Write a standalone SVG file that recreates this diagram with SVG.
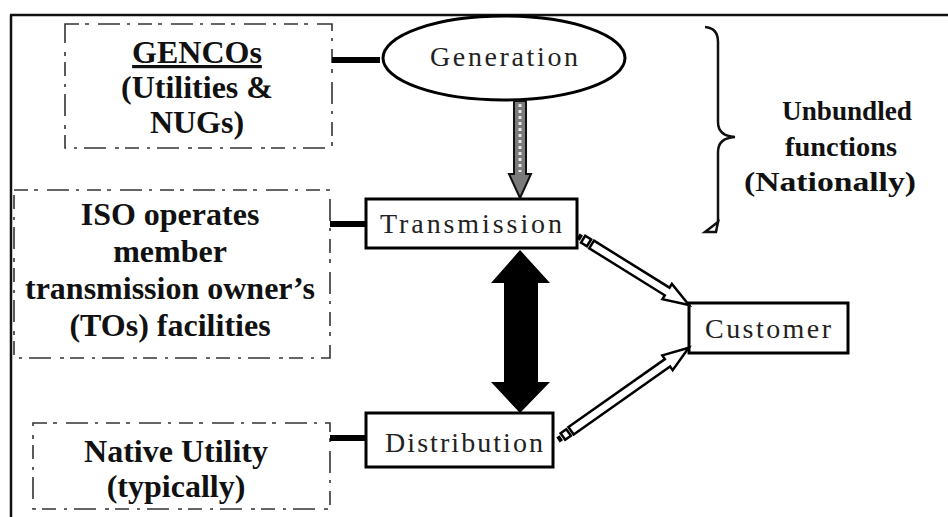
<svg xmlns="http://www.w3.org/2000/svg" width="948" height="517" viewBox="0 0 948 517">
  <style>
    .lbl { font-weight: bold; font-size: 32px; fill: #111; text-anchor: middle; }
    .side { font-weight: bold; font-size: 28px; fill: #111; text-anchor: middle; }
    .node { font-size: 28px; fill: #222; text-anchor: middle; }
    .dash { fill: none; stroke: #333; stroke-width: 1.6; stroke-dasharray: 14 6 4 9 22 7 3 8; }
    .box { fill: #fff; stroke: #000; stroke-width: 3; }
    .bar { stroke: #000; stroke-width: 6; }
    .hollow { fill: #fff; stroke: #000; stroke-width: 2.5; stroke-linejoin: miter; }
  </style>

  <rect width="948" height="517" fill="#fff"/>

  <!-- outer frame: top and left edges only -->
  <path d="M10 15 H948 M11 15 V517" fill="none" stroke="#111" stroke-width="2.5"/>

  <!-- dashed label boxes -->
  <g id="gencos">
    <rect class="dash" x="65" y="24" width="267" height="124"/>
    <text class="lbl" font-family="Liberation Serif" x="197" y="63" text-decoration="underline">GENCOs</text>
    <text class="lbl" font-family="Liberation Serif" x="197" y="98">(Utilities &amp;</text>
    <text class="lbl" font-family="Liberation Serif" x="197" y="133">NUGs)</text>
  </g>

  <g id="iso">
    <rect class="dash" x="14" y="190" width="316" height="168"/>
    <text class="lbl" font-family="Liberation Serif" x="170" y="225">ISO operates</text>
    <text class="lbl" font-family="Liberation Serif" x="170" y="262">member</text>
    <text class="lbl" font-family="Liberation Serif" x="170" y="299">transmission owner’s</text>
    <text class="lbl" font-family="Liberation Serif" x="170" y="336">(TOs) facilities</text>
  </g>

  <g id="native">
    <rect class="dash" x="33" y="423" width="297" height="86"/>
    <text class="lbl" font-family="Liberation Serif" x="176" y="462">Native Utility</text>
    <text class="lbl" font-family="Liberation Serif" x="176" y="497">(typically)</text>
  </g>

  <!-- functional nodes -->
  <g id="generation">
    <ellipse cx="504" cy="58" rx="121" ry="42" fill="#fff" stroke="#000" stroke-width="3"/>
    <text class="node" font-family="Liberation Serif" x="504" y="66" textLength="148" lengthAdjust="spacing">Generation</text>
  </g>

  <g id="transmission">
    <rect class="box" x="366" y="199" width="211" height="49"/>
    <text class="node" font-family="Liberation Serif" x="471" y="233" textLength="182" lengthAdjust="spacing">Transmission</text>
  </g>

  <g id="distribution">
    <rect class="box" x="366" y="413" width="187" height="54"/>
    <text class="node" font-family="Liberation Serif" x="464" y="452" textLength="158" lengthAdjust="spacing">Distribution</text>
  </g>

  <g id="customer">
    <rect class="box" x="689" y="303" width="159" height="50"/>
    <text class="node" font-family="Liberation Serif" x="768" y="338" textLength="126" lengthAdjust="spacing">Customer</text>
  </g>

  <!-- brace and its caption -->
  <g id="unbundled">
    <path d="M705 27 Q718 28 718 42 V122 Q718 136 735 137 Q718 138 718 152 V222" fill="none" stroke="#111" stroke-width="2.5"/>
    <path d="M718 222 L705 232 L716 232 Z" fill="#fff" stroke="#111" stroke-width="2.5"/>
    <text class="side" font-family="Liberation Serif" x="847" y="120" textLength="130" lengthAdjust="spacingAndGlyphs">Unbundled</text>
    <text class="side" font-family="Liberation Serif" x="841" y="156" textLength="112" lengthAdjust="spacingAndGlyphs">functions</text>
    <text class="side" font-family="Liberation Serif" x="830" y="191" textLength="172" lengthAdjust="spacingAndGlyphs">(Nationally)</text>
  </g>

  <!-- connectors -->
  <g id="connectors">
    <!-- ownership bars -->
    <line class="bar" x1="332" y1="60" x2="380" y2="60"/>
    <line class="bar" x1="330" y1="224" x2="366" y2="224"/>
    <line class="bar" x1="330" y1="438" x2="366" y2="438"/>

    <!-- generation to transmission -->
    <path d="M514 101 V174 H509 L520 198 L531 174 H526 V101 Z" fill="#7a7a7a" stroke="#111" stroke-width="2"/>
    <line x1="520" y1="104" x2="520" y2="172" stroke="#e8e8e8" stroke-width="3" stroke-dasharray="3 3"/>

    <!-- transmission / distribution two-way arrow -->
    <path d="M520 250 L550 283 H538 V382 H550 L520 413 L491 382 H504 V283 H491 Z" fill="#000"/>

    <!-- transmission to customer -->
    <g transform="translate(578 236) rotate(31.9)">
      <rect x="0" y="-3" width="4" height="6" fill="#000"/>
      <rect x="6" y="-4" width="7" height="8" fill="#fff" stroke="#000" stroke-width="2.5"/>
      <path class="hollow" d="M16 -4.5 H105 V-9 L130.7 0 L105 9 V4.5 H16 Z"/>
    </g>

    <!-- distribution to customer -->
    <g transform="translate(558 440) rotate(-35.2)">
      <rect x="0" y="-3" width="4" height="6" fill="#000"/>
      <rect x="6" y="-4" width="7" height="8" fill="#fff" stroke="#000" stroke-width="2.5"/>
      <path class="hollow" d="M16 -4.5 H134 V-9 L160 0 L134 9 V4.5 H16 Z"/>
    </g>
  </g>
</svg>
